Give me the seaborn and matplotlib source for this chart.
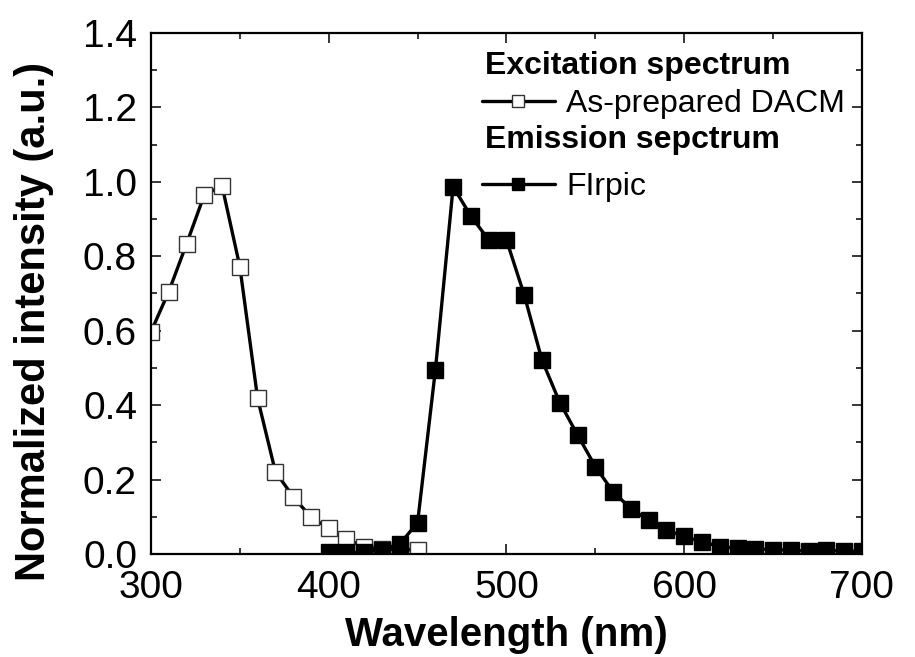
import numpy as np
import pandas as pd
import matplotlib
matplotlib.use("Agg")
import matplotlib.pyplot as plt
import seaborn as sns

# ---- data ----
exc_wavelength = [300, 310, 320, 330, 340, 350, 360, 370, 380, 390, 400, 410, 420, 430, 440, 450]
exc_intensity = [0.597, 0.705, 0.833, 0.965, 0.989, 0.772, 0.418, 0.221, 0.154, 0.099, 0.069, 0.039, 0.020, 0.013, 0.011, 0.012]

em_wavelength = [400, 410, 420, 430, 440, 450, 460, 470, 480, 490, 500, 510, 520, 530, 540, 550,
                 560, 570, 580, 590, 600, 610, 620, 630, 640, 650, 660, 670, 680, 690, 700]
em_intensity = [0.004, 0.004, 0.005, 0.012, 0.027, 0.084, 0.494, 0.987, 0.908, 0.844, 0.844, 0.696,
                0.521, 0.407, 0.320, 0.235, 0.167, 0.122, 0.090, 0.064, 0.047, 0.033, 0.020, 0.015,
                0.013, 0.012, 0.010, 0.008, 0.010, 0.008, 0.007]

exc_label = "As-prepared DACM"
em_label = "FIrpic"
exc_header = "Excitation spectrum"
em_header = "Emission sepctrum"
x_label = "Wavelength (nm)"
y_label = "Normalized intensity (a.u.)"

sns.set_theme(style="ticks")
plt.rcParams["font.family"] = ["Liberation Sans", "DejaVu Sans"]
plt.rcParams["text.color"] = "black"
plt.rcParams["axes.labelcolor"] = "black"

fig = plt.figure(figsize=(9.15, 6.57), dpi=100)
ax = fig.add_axes([0.165, 0.1568, 0.777, 0.793])

exc_df = pd.DataFrame({"x": exc_wavelength, "y": exc_intensity})
em_df = pd.DataFrame({"x": em_wavelength, "y": em_intensity})

sns.lineplot(data=exc_df, x="x", y="y", ax=ax, color="black", linewidth=2.4,
             marker="s", markersize=12, markerfacecolor="white",
             markeredgecolor="#333333", markeredgewidth=1.0, label=exc_label)
sns.lineplot(data=em_df, x="x", y="y", ax=ax, color="black", linewidth=2.4,
             marker="s", markersize=12, markerfacecolor="black",
             markeredgecolor="black", markeredgewidth=1.0, label=em_label)

ax.set_xlim(300, 700)
ax.set_ylim(0, 1.4)
ax.set_xticks([300, 400, 500, 600, 700])
ax.set_xticks([350, 450, 550, 650], minor=True)
ax.set_yticks([0.0, 0.2, 0.4, 0.6, 0.8, 1.0, 1.2, 1.4])
ax.set_yticks([0.1, 0.3, 0.5, 0.7, 0.9, 1.1, 1.3], minor=True)
ax.set_yticklabels([f"{v:.1f}" for v in [0.0, 0.2, 0.4, 0.6, 0.8, 1.0, 1.2, 1.4]])

ax.tick_params(which="both", direction="in", top=True, right=True, colors="black",
               labelcolor="black", labelsize=28, width=1.1)
ax.tick_params(which="major", length=7.5)
ax.tick_params(which="minor", length=4)
ax.tick_params(axis="x", which="major", pad=11.5)
ax.tick_params(axis="y", which="major", pad=10)
for s in ax.spines.values():
    s.set_linewidth(1.6)
    s.set_color("black")

ax.set_xlabel(x_label, fontsize=29, fontweight="bold", labelpad=7, color="black")
ax.set_ylabel(y_label, fontsize=30, fontweight="bold", color="black")
ax.yaxis.set_label_coords(-0.136, 0.447)

handles = ax.get_lines()[:2]
leg = ax.legend(handles=handles, labels=[exc_label, em_label], loc="upper left",
                bbox_to_anchor=(0.465, 0.892), frameon=False, fontsize=23,
                handlelength=2.3, handletextpad=0.35, labelspacing=1.65,
                borderpad=0, borderaxespad=0, markerscale=0.7, labelcolor="black")

ax.text(0.47, 0.936, exc_header, transform=ax.transAxes, fontsize=23,
        fontweight="bold", ha="left", va="center", color="black")
ax.text(0.47, 0.794, em_header, transform=ax.transAxes, fontsize=23,
        fontweight="bold", ha="left", va="center", color="black")

fig.savefig("out.png", dpi=100, facecolor="white")
